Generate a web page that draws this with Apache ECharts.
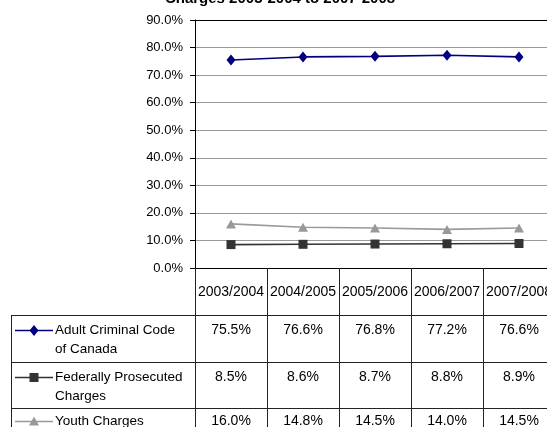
<!DOCTYPE html>
<html>
<head>
<meta charset="utf-8">
<script src="https://cdn.jsdelivr.net/npm/echarts@6/dist/echarts.min.js"></script>
<style>
html,body{margin:0;padding:0;background:#fff;}
#chart{width:547px;height:427px;}
</style>
</head>
<body>
<div id="chart"></div>
<script>
var titleText = 'Charges 2003-2004 to 2007-2008';
var categories = ['2003/2004', '2004/2005', '2005/2006', '2006/2007', '2007/2008'];
var seriesNames = ['Adult Criminal Code\nof Canada', 'Federally Prosecuted\nCharges', 'Youth Charges'];
var adultValues = [75.5, 76.6, 76.8, 77.2, 76.6];
var federalValues = [8.5, 8.6, 8.7, 8.8, 8.9];
var youthValues = [16.0, 14.8, 14.5, 14.0, 14.5];
var yTicks = [0, 10, 20, 30, 40, 50, 60, 70, 80, 90];

var FONT = '"Liberation Sans", Arial, sans-serif';
var colors = ['#000080', '#333333', '#999999'];
var symbols = ['diamond', 'rect', 'triangle'];
var symbolSizes = [[9, 11], 9, [10, 9]];
var allValues = [adultValues, federalValues, youthValues];

var chart = echarts.init(document.getElementById('chart'), null, {renderer: 'canvas'});

var series = allValues.map(function (vals, i) {
  return {
    name: seriesNames[i],
    type: 'line',
    data: vals,
    symbol: symbols[i],
    symbolSize: symbolSizes[i],
    showAllSymbol: true,
    lineStyle: {color: colors[i], width: 1.6},
    itemStyle: {color: colors[i]},
    animation: false,
    z: 3 + (2 - i)
  };
});

chart.setOption({
  animation: false,
  grid: {left: 195, top: 20, width: 360, height: 248, containLabel: false, outerBoundsMode: 'none'},
  xAxis: [{
    type: 'category',
    data: categories,
    boundaryGap: true,
    position: 'bottom',
    axisLine: {show: true, lineStyle: {color: '#000', width: 1}},
    axisTick: {show: true, length: 160, interval: 0, lineStyle: {color: '#222', width: 1}},
    axisLabel: {
      interval: 0, margin: 24, verticalAlign: 'middle', hideOverlap: false,
      fontFamily: FONT, fontSize: 14, color: '#000'
    },
    splitLine: {show: false}
  }, {
    type: 'category',
    data: categories,
    position: 'top',
    axisLine: {show: true, lineStyle: {color: '#000', width: 1}},
    axisTick: {show: false},
    axisLabel: {show: false}
  }],
  yAxis: {
    type: 'value',
    min: yTicks[0],
    max: yTicks[yTicks.length - 1],
    interval: 10,
    axisLine: {show: true, lineStyle: {color: '#000', width: 1}},
    axisTick: {show: true, length: 5, lineStyle: {color: '#000'}},
    axisLabel: {
      margin: 12, fontFamily: FONT, fontSize: 13, color: '#000',
      formatter: function (v) { return v.toFixed(1) + '%'; }
    },
    splitLine: {show: true, lineStyle: {color: '#9a9a9a', width: 1}}
  },
  series: series
});

// Build table and legend from the data via the chart's scale
var xs = categories.map(function (c, i) { return chart.convertToPixel({xAxisIndex: 0}, i); });
var rowLines = [315, 362, 408];
var rowTextY = [330, 377, 421];
var graphics = [];

graphics.push({
  type: 'text', x: 280, y: 6,
  style: {text: titleText, fontFamily: FONT, fontSize: 15, fontWeight: 'bold', fill: '#000',
    align: 'center', verticalAlign: 'bottom'},
  silent: true
});
// horizontal table lines
rowLines.forEach(function (y) {
  graphics.push({type: 'line', shape: {x1: 11, y1: y + 0.5, x2: 547, y2: y + 0.5},
    style: {stroke: '#222', lineWidth: 1}, silent: true});
});
// left border
graphics.push({type: 'line', shape: {x1: 11.5, y1: 315, x2: 11.5, y2: 427},
  style: {stroke: '#222', lineWidth: 1}, silent: true});

allValues.forEach(function (vals, r) {
  vals.forEach(function (v, i) {
    graphics.push({
      type: 'text', x: xs[i], y: rowTextY[r],
      style: {text: v.toFixed(1) + '%', fontFamily: FONT, fontSize: 14, fill: '#000',
        align: 'center', verticalAlign: 'middle'},
      silent: true
    });
  });
  // legend key
  var ly = rowTextY[r] + 0.5;
  graphics.push({type: 'line', shape: {x1: 15, y1: ly, x2: 53, y2: ly},
    style: {stroke: colors[r], lineWidth: 1.6}, silent: true});
  var sym;
  if (r === 0) {
    sym = {type: 'polygon', shape: {points: [[34, ly - 5.5], [38.5, ly], [34, ly + 5.5], [29.5, ly]]}};
  } else if (r === 1) {
    sym = {type: 'rect', shape: {x: 29.5, y: ly - 4.5, width: 9, height: 9}};
  } else {
    sym = {type: 'polygon', shape: {points: [[34, ly - 5], [39, ly + 4], [29, ly + 4]]}};
  }
  sym.style = {fill: colors[r]};
  sym.silent = true;
  graphics.push(sym);
  var lines = seriesNames[r].split('\n');
  lines.forEach(function (t, k) {
    graphics.push({
      type: 'text', x: 55, y: rowTextY[r] + k * 19,
      style: {text: t, fontFamily: FONT, fontSize: 13.5, fill: '#000', align: 'left', verticalAlign: 'middle'},
      silent: true
    });
  });
});

chart.setOption({graphic: graphics});
</script>
</body>
</html>
